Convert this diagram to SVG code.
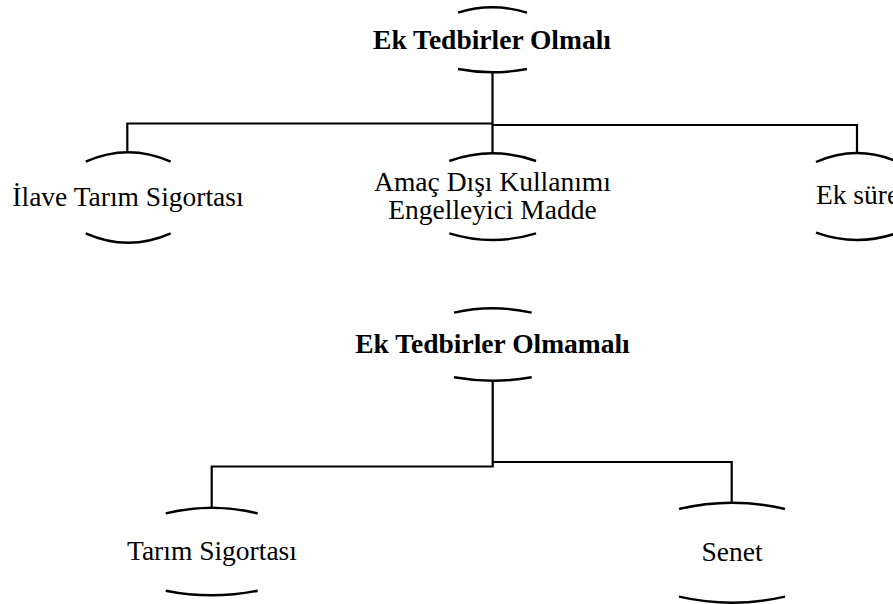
<svg xmlns="http://www.w3.org/2000/svg" width="893" height="604" viewBox="0 0 893 604">
<style>
.arc{fill:none;stroke:#000;stroke-width:2.4}
.ln{fill:none;stroke:#000;stroke-width:2.2}
.t{font-family:"Liberation Serif","Times New Roman",serif;font-size:27.5px;fill:#000;text-anchor:middle}
.b{font-weight:bold}
</style>
<rect width="893" height="604" fill="#fff"/>
<g id="connectors">
<path class="ln" d="M127.3,152.5 V123.5 H492.5"/>
<path class="ln" d="M492.5,125 H857 V153"/>
<path class="ln" d="M492.5,72 V153.5"/>
<path class="ln" d="M492.7,380.5 V466.5 H211.7 V508"/>
<path class="ln" d="M492.7,462 H731.7 V503"/>
</g>
<g id="root1">
<path class="arc" d="M458,12.7 Q492.5,1.9 527,12.7"/>
<path class="arc" d="M458,69 Q492.5,75.6 527,69"/>
<text class="t b" x="492" y="49">Ek Tedbirler Olmalı</text>
</g>
<g id="child1">
<path class="arc" d="M85.7,161.7 Q128.2,142.9 170.7,161.7"/>
<path class="arc" d="M85.7,233.3 Q128.2,252.1 170.7,233.3"/>
<text class="t" x="128" y="206">İlave Tarım Sigortası</text>
</g>
<g id="child2">
<path class="arc" d="M449.3,161 Q492.7,145.6 536,161"/>
<path class="arc" d="M449.3,233.3 Q492.7,246.7 536,233.3"/>
<text class="t" x="492.5" y="191"><tspan x="492.5" y="191">Amaç Dışı Kullanımı</tspan><tspan x="492.5" y="218.5">Engelleyici Madde</tspan></text>
</g>
<g id="child3">
<path class="arc" d="M816,162 Q857,144 898,162"/>
<path class="arc" d="M816,232.7 Q857,247.3 898,232.7"/>
<text class="t" x="857.5" y="204">Ek süre</text>
</g>
<g id="root2">
<path class="arc" d="M454,312.7 Q492.8,303.9 531.7,312.7"/>
<path class="arc" d="M454,377.3 Q492.8,384.1 531.7,377.3"/>
<text class="t b" x="492.5" y="352.7">Ek Tedbirler Olmamalı</text>
</g>
<g id="child4">
<path class="arc" d="M165.7,513.3 Q211.7,502.1 257.7,513.3"/>
<path class="arc" d="M165.7,590.7 Q211.7,599.9 257.7,590.7"/>
<text class="t" x="212" y="560">Tarım Sigortası</text>
</g>
<g id="child5">
<path class="arc" d="M679,509 Q732,496.4 785,509"/>
<path class="arc" d="M679,596.7 Q732,608.7 785,596.7"/>
<text class="t" x="732" y="560.7">Senet</text>
</g>
</svg>
